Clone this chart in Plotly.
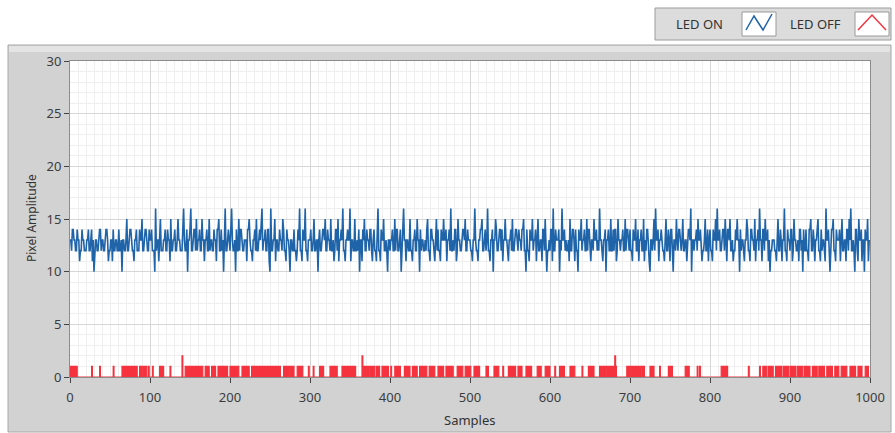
import plotly.graph_objects as go

# ---- data ----
led_on = [
13,13,12,14,14,13,13,12,12,14,13,13,11,12,12,14,13,13,12,12,
12,13,13,14,12,12,13,14,11,13,10,12,13,13,12,12,13,14,14,12,
13,13,12,12,13,14,14,13,11,12,12,13,13,11,14,12,12,13,13,12,
12,14,12,12,13,10,13,13,12,12,13,15,12,12,13,14,14,13,12,12,
11,13,13,14,12,12,12,14,13,13,15,12,12,13,14,14,13,12,12,14,
13,13,14,12,12,12,10,16,12,13,13,11,13,15,12,12,12,13,13,14,
12,12,14,13,13,11,15,12,12,13,13,14,12,12,13,15,13,13,12,12,
12,14,16,13,12,12,14,10,13,13,14,16,12,12,13,14,14,12,15,12,
13,13,14,12,12,15,13,13,11,13,13,14,12,12,15,12,13,13,12,12,
14,13,13,11,14,14,15,12,12,14,12,13,10,14,16,12,12,13,14,13,
12,14,16,13,12,12,13,10,14,12,12,15,12,14,14,13,12,12,13,13,
13,11,14,14,15,13,12,12,11,13,13,14,12,15,12,12,13,14,13,15,
16,12,13,13,14,12,12,14,14,11,10,16,12,12,13,13,15,11,13,13,
12,12,14,13,13,12,15,14,12,12,11,14,13,13,12,10,13,13,12,12,
14,12,12,11,12,14,13,16,12,12,11,14,13,13,16,12,12,11,13,13,
13,14,12,12,13,15,12,12,13,13,10,13,14,12,12,13,14,14,13,15,
12,12,14,13,13,12,15,12,12,13,11,12,14,14,12,15,11,13,13,14,
13,16,12,12,11,13,13,14,13,13,16,11,13,13,12,12,15,12,12,13,
12,14,10,13,13,11,14,13,15,12,12,14,13,13,12,14,14,12,11,13,
14,12,12,11,14,16,12,12,11,14,13,13,15,12,12,13,12,10,13,13,
12,13,13,14,12,12,15,12,14,14,12,12,13,14,10,12,14,16,13,13,
11,13,13,12,12,15,12,12,11,13,13,14,12,12,15,13,13,10,14,12,
13,13,12,12,13,12,14,15,12,12,11,14,14,13,13,12,11,13,15,12,
14,12,12,11,14,13,13,15,13,13,14,11,13,13,14,12,16,12,12,13,
12,14,14,11,12,15,13,13,12,12,13,14,14,13,15,12,12,14,13,13,
13,12,12,11,13,13,16,13,12,12,11,13,13,14,14,15,12,12,13,14,
12,13,16,12,12,11,13,13,14,10,13,13,15,14,12,12,13,14,14,12,
14,11,13,13,15,13,13,12,11,13,13,14,12,15,12,12,13,14,14,13,
12,14,13,13,12,14,14,15,12,12,10,14,12,12,11,14,13,13,15,12,
13,13,14,11,13,15,12,12,13,13,11,14,14,12,15,13,10,12,12,13,
12,14,14,11,16,12,12,14,13,13,13,14,10,13,12,16,13,13,14,12,
13,12,12,13,11,15,12,12,14,14,13,11,14,12,12,10,14,13,13,15,
12,13,13,14,12,12,15,12,14,14,12,11,13,13,12,15,13,13,14,12,
13,12,16,13,13,12,11,13,13,14,10,13,13,14,12,12,15,12,12,14,
12,14,14,11,12,15,13,13,12,13,13,14,12,12,15,12,14,14,13,12,
14,12,12,11,14,13,13,15,12,12,14,11,13,13,14,12,12,15,11,13,
12,14,14,12,11,10,13,13,12,13,15,12,16,13,13,14,11,13,13,14,
13,12,12,11,13,15,12,12,14,13,11,14,14,12,10,13,13,12,15,13,
12,14,14,13,12,13,15,12,12,13,13,11,13,14,14,13,16,10,13,13,
12,13,13,14,12,15,13,13,14,12,11,12,12,13,15,12,12,14,11,13,
14,12,12,11,14,13,13,15,12,16,13,13,14,12,12,13,14,14,12,15,
13,11,14,14,13,15,12,12,13,11,12,12,14,13,15,13,13,10,14,12,
13,13,12,11,13,13,15,14,12,12,11,14,14,13,13,12,15,11,13,13,
14,12,16,13,13,11,14,14,12,15,13,13,14,11,13,10,12,12,13,13,
13,12,12,11,13,15,12,12,14,13,11,13,13,16,12,12,11,14,13,13,
12,14,14,11,12,15,13,13,12,12,13,11,14,14,12,13,10,14,12,12,
14,12,12,11,14,14,15,12,12,14,13,11,13,13,14,15,12,12,11,14,
12,13,13,12,11,16,13,13,14,12,10,12,14,14,15,12,12,11,14,13,
13,13,14,11,13,15,12,12,13,13,11,14,14,12,15,13,16,12,12,13,
12,10,14,14,12,11,15,13,13,14,11,13,13,10,14,13,13,15,11,13,
]

led_off = [
1,1,1,1,1,1,1,1,1,0,0,0,0,0,0,0,0,0,0,0,
0,0,0,0,0,0,0,1,0,0,0,0,0,0,0,0,0,1,0,0,
0,0,0,0,0,0,0,0,0,0,0,0,0,0,1,0,0,0,0,0,
0,0,0,0,0,1,1,1,1,0,1,1,1,1,0,1,1,1,1,0,
1,1,1,1,0,0,0,1,1,1,1,0,1,1,1,1,0,0,1,0,
0,0,0,1,0,0,0,0,0,0,0,0,1,1,1,0,1,0,0,0,
0,0,0,0,0,1,0,0,0,0,0,0,0,0,0,0,0,0,0,0,
2,0,0,0,1,1,1,1,1,1,0,1,1,1,1,1,1,1,1,0,
1,1,1,1,1,1,0,0,0,1,1,1,1,1,0,0,0,1,1,1,
1,1,0,0,0,1,1,1,1,1,0,1,1,1,1,1,1,0,0,0,
1,1,1,1,1,0,1,1,1,1,1,0,0,0,0,1,1,1,1,0,
1,1,1,1,0,0,0,1,1,1,1,1,0,1,1,1,1,1,1,0,
1,1,1,1,1,1,1,0,1,1,1,1,1,1,1,0,1,1,1,1,
1,1,1,0,0,0,0,1,1,1,1,1,1,0,1,1,1,1,1,1,
0,0,0,0,1,1,1,1,1,1,1,0,0,0,0,0,0,0,1,0,
0,0,0,0,1,0,0,0,0,0,0,0,1,1,1,1,1,0,0,0,
0,0,0,0,0,1,1,1,1,1,1,1,1,1,0,0,0,0,0,0,
1,1,1,1,1,0,1,1,1,1,1,1,1,1,1,1,1,0,0,0,
0,0,0,0,0,2,1,1,1,1,1,1,1,0,1,1,1,1,1,1,
1,0,0,1,1,1,1,0,0,0,1,1,1,1,1,1,1,1,0,0,
0,1,0,0,0,0,1,1,1,1,1,1,1,0,0,0,0,0,1,1,
1,1,1,1,1,0,0,0,1,1,1,1,1,1,0,0,0,1,1,1,
1,1,1,1,1,1,0,0,0,1,1,1,1,1,1,1,0,0,0,0,
1,1,1,1,1,1,1,0,0,0,1,1,1,1,1,1,1,1,1,0,
0,0,0,0,1,1,1,1,1,1,1,0,0,0,1,1,1,1,1,1,
1,0,0,0,0,1,1,1,1,1,1,1,0,0,0,0,0,0,0,0,
1,1,1,0,0,0,0,0,0,0,1,1,1,1,1,1,0,0,0,0,
0,1,0,0,0,0,0,0,1,1,1,1,1,1,1,1,1,0,0,0,
1,1,1,1,1,0,0,0,0,0,1,1,1,1,1,1,1,0,0,0,
0,0,0,0,1,1,1,1,1,0,0,0,0,0,1,1,1,1,1,1,
0,0,0,0,0,0,1,0,0,0,0,0,1,1,1,1,1,1,0,0,
0,0,0,0,0,1,1,1,1,1,1,0,0,0,0,0,0,0,0,0,
1,0,0,0,0,0,0,0,1,1,1,1,1,1,1,0,0,0,0,0,
0,0,1,1,1,1,1,1,1,1,1,0,1,1,1,1,1,1,1,1,
0,2,1,0,0,0,0,0,0,0,0,0,0,0,0,0,1,1,1,1,
1,0,1,1,1,1,1,0,1,1,1,1,1,0,1,1,1,1,0,0,
0,0,0,0,0,1,1,1,1,1,0,0,0,0,0,0,0,1,0,0,
0,0,0,0,0,0,0,0,1,1,1,1,1,0,0,0,0,0,0,0,
0,0,0,0,0,0,0,0,0,1,1,1,1,1,0,0,0,0,0,0,
0,0,0,0,1,0,0,1,0,0,0,0,0,0,0,0,0,0,0,0,
0,0,0,0,0,0,0,0,0,0,0,0,0,0,1,1,1,1,1,1,
1,1,0,0,0,0,0,0,0,0,0,0,0,0,0,0,0,0,0,0,
0,0,0,0,0,0,0,0,1,0,0,0,0,0,0,0,0,0,0,0,
0,0,1,0,0,0,1,1,1,1,1,0,0,1,1,1,1,1,1,0,
0,0,1,1,1,1,1,1,1,1,0,0,1,1,1,1,1,1,0,0,
1,1,1,1,1,1,1,0,0,1,1,1,1,1,1,1,0,0,1,1,
1,1,1,1,1,0,0,0,1,1,1,1,1,1,0,0,1,1,1,1,
1,1,1,0,0,0,1,1,1,1,1,1,1,0,0,0,1,1,1,1,
1,0,0,0,1,1,1,1,1,1,1,0,0,0,0,1,1,1,1,1,
1,1,0,0,0,1,1,1,1,1,0,0,0,0,1,1,1,1,0,0,
]

samples = list(range(len(led_on)))
x_ticks = [0, 100, 200, 300, 400, 500, 600, 700, 800, 900, 1000]
y_ticks = [0, 5, 10, 15, 20, 25, 30]
legend_names = ["LED ON", "LED OFF"]
colors = ["#1f63a8", "#f5333f"]

# ---- layout geometry (pixels) ----
W, H = 895, 433
L, R, T, B = 70, 870, 61, 377


def px(x):
    return (x - L) / (R - L)


def py(y):
    return (B - y) / (B - T)


fig = go.Figure()
fig.add_trace(go.Scatter(x=samples, y=led_off, mode="lines", line=dict(color=colors[1], width=1.2, shape="hv"),
                         fill="tozeroy", fillcolor=colors[1], name=legend_names[1], showlegend=False))
fig.add_trace(go.Scatter(x=samples, y=led_on, mode="lines", line=dict(color=colors[0], width=1.6),
                         name=legend_names[0], showlegend=False))

shapes = [
    # outer grey panel
    dict(type="rect", xref="paper", yref="paper", x0=px(8), x1=px(891), y0=py(432), y1=py(45),
         fillcolor="#d2d2d2", line=dict(color="#a8a8a8", width=1), layer="below"),
    dict(type="rect", xref="paper", yref="paper", x0=px(9), x1=px(890), y0=py(52), y1=py(46),
         fillcolor="#e4e4e4", line=dict(width=0), layer="below"),
    # white plotting area
    dict(type="rect", xref="paper", yref="paper", x0=0, x1=1, y0=0, y1=1,
         fillcolor="white", line=dict(width=0), layer="below"),
    # legend box
    dict(type="rect", xref="paper", yref="paper", x0=px(655), x1=px(891), y0=py(40), y1=py(8),
         fillcolor="#dcdcdc", line=dict(color="#9c9c9c", width=1)),
    dict(type="rect", xref="paper", yref="paper", x0=px(742), x1=px(776), y0=py(36), y1=py(12),
         fillcolor="white", line=dict(color="#9a9a9a", width=1)),
    dict(type="rect", xref="paper", yref="paper", x0=px(855), x1=px(889), y0=py(36), y1=py(12),
         fillcolor="white", line=dict(color="#9a9a9a", width=1)),
]


def path(points):
    return "M " + " L ".join(f"{px(a)},{py(b)}" for a, b in points)


shapes.append(dict(type="path", xref="paper", yref="paper",
                   path=path([(746, 30), (754, 16), (763, 30), (772, 14)]),
                   line=dict(color=colors[0], width=1.5)))
shapes.append(dict(type="path", xref="paper", yref="paper",
                   path=path([(858, 30), (872, 15), (886, 30)]),
                   line=dict(color=colors[1], width=1.5)))

txt_font = dict(size=13, color="#333333", family="Noto Sans")
annotations = [
    dict(text=legend_names[0], x=px(699), y=py(24), xref="paper", yref="paper", showarrow=False,
         xanchor="center", yanchor="middle", font=txt_font),
    dict(text=legend_names[1], x=px(815), y=py(24), xref="paper", yref="paper", showarrow=False,
         xanchor="center", yanchor="middle", font=txt_font),
    dict(text="Pixel Amplitude", x=px(31), y=py(218), xref="paper", yref="paper", showarrow=False,
         xanchor="center", yanchor="middle", textangle=-90,
         font=dict(size=12, color="#333333", family="Noto Sans")),
    dict(text="Samples", x=px(470), y=py(420), xref="paper", yref="paper", showarrow=False,
         xanchor="center", yanchor="middle", font=txt_font),
]

axis_common = dict(
    showline=True, linecolor="#8c8c8c", linewidth=1, mirror=True,
    ticks="outside", ticklen=5, tickcolor="#444444",
    showgrid=True, gridcolor="#d6d6d6", gridwidth=1,
    zeroline=False, layer="below traces",
    tickfont=dict(size=13, color="#3c3c3c", family="Noto Sans"),
)

fig.update_layout(
    width=W, height=H,
    margin=dict(l=L, r=W - R, t=T, b=H - B, autoexpand=False),
    paper_bgcolor="white", plot_bgcolor="white",
    shapes=shapes, annotations=annotations, showlegend=False,
    xaxis=dict(range=[0, 1000], tickvals=x_ticks, ticktext=[str(v) for v in x_ticks],
               ticklabelstandoff=3,
               minor=dict(dtick=10, showgrid=True, gridcolor="#efefef", ticks=""), **axis_common),
    yaxis=dict(range=[0, 30], tickvals=y_ticks, ticktext=[str(v) for v in y_ticks],
               minor=dict(dtick=1, showgrid=True, gridcolor="#efefef", ticks=""), **axis_common),
)

fig.write_html("out.html", config={"displayModeBar": False},
               post_script="document.body.style.margin='0';document.body.style.overflow='hidden';")
